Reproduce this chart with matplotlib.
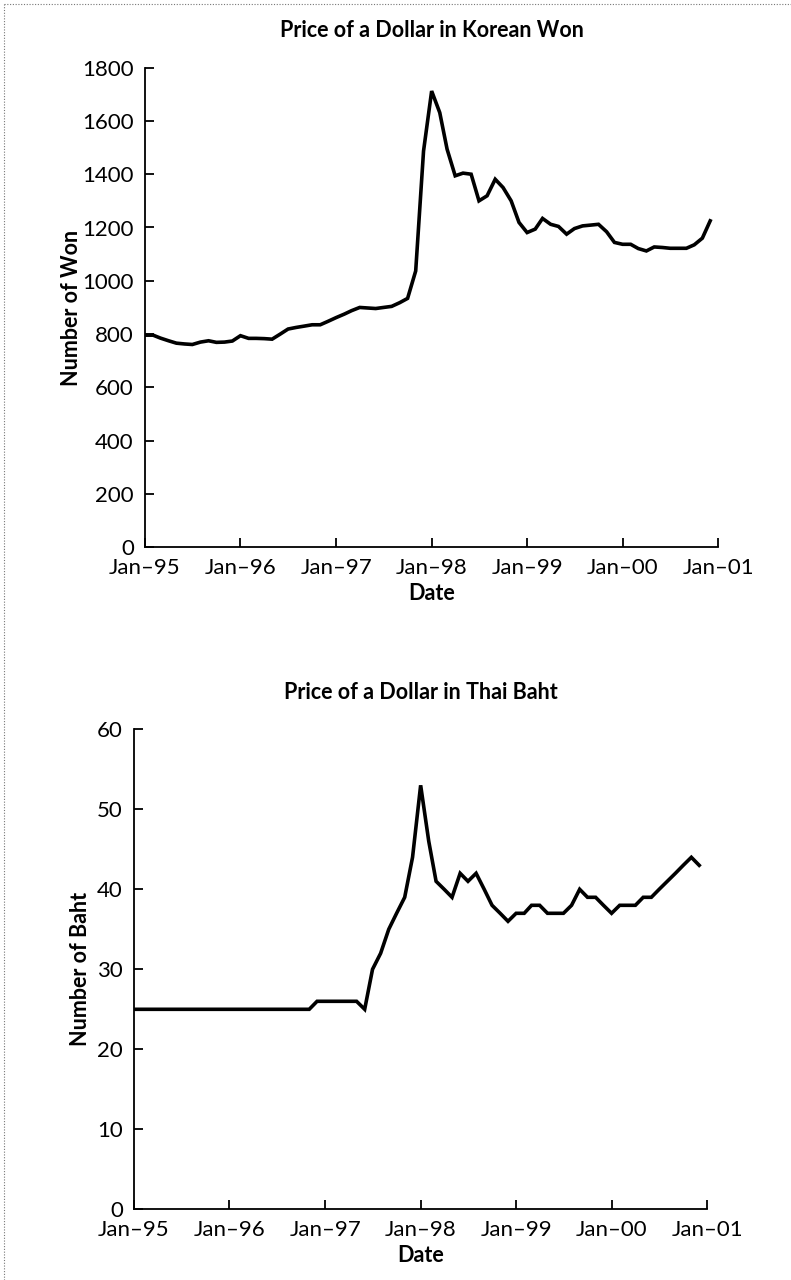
import matplotlib
matplotlib.use("Agg")
import matplotlib.pyplot as plt
from matplotlib.lines import Line2D
import pandas as pd

plt.rcParams['font.family'] = ['Lato', 'DejaVu Sans']

# Monthly observations, Jan 1995 - Dec 2000
months = pd.date_range("1995-01-01", "2000-12-01", freq="MS")

won = [796, 796, 785, 775, 766, 763, 761, 770, 775, 769, 770, 774,
       794, 784, 784, 783, 781, 800, 819, 825, 830, 835, 835, 848,
       862, 875, 888, 900, 898, 896, 900, 904, 918, 934, 1037, 1487,
       1712, 1631, 1494, 1394, 1404, 1400, 1300, 1319, 1381, 1350, 1300, 1219,
       1181, 1194, 1234, 1212, 1204, 1175, 1196, 1206, 1209, 1212, 1184, 1144,
       1137, 1137, 1121, 1112, 1127, 1125, 1122, 1122, 1122, 1135, 1160, 1225]

baht = [25, 25, 25, 25, 25, 25, 25, 25, 25, 25, 25, 25,
        25, 25, 25, 25, 25, 25, 25, 25, 25, 25, 25, 26,
        26, 26, 26, 26, 26, 25, 30, 32, 35, 37, 39, 44,
        53, 46, 41, 40, 39, 42, 41, 42, 40, 38, 37, 36,
        37, 37, 38, 38, 37, 37, 37, 38, 40, 39, 39, 38,
        37, 38, 38, 38, 39, 39, 40, 41, 42, 43, 44, 43]

year_ticks = pd.date_range("1995-01-01", "2001-01-01", freq="YS")
year_labels = ["Jan\u201395", "Jan\u201396", "Jan\u201397", "Jan\u201398",
               "Jan\u201399", "Jan\u201300", "Jan\u201301"]

won_ticks = list(range(0, 1801, 200))
baht_ticks = list(range(0, 61, 10))

W, H = 791, 1280
fig = plt.figure(figsize=(W / 100, H / 100), dpi=100)


def panel(rect, values, yticks, title, ylabel, ylabelpad):
    ax = fig.add_axes(rect)
    ax.plot(months, values, color="black", lw=2.6, solid_joinstyle="miter")
    ax.set_xlim(year_ticks[0], year_ticks[-1])
    ax.set_ylim(yticks[0], yticks[-1])
    ax.set_xticks(year_ticks)
    ax.set_xticklabels(year_labels)
    ax.set_yticks(yticks)
    for s in ("top", "right"):
        ax.spines[s].set_visible(False)
    for s in ("left", "bottom"):
        ax.spines[s].set_linewidth(1.3)
    ax.tick_params(direction="in", length=6.5, width=1.3, labelsize=16,
                   colors="black")
    ax.tick_params(axis="y", pad=8)
    ax.tick_params(axis="x", pad=8)
    ax.set_title(title, fontsize=15.5, fontweight="bold", pad=22)
    ax.set_ylabel(ylabel, fontsize=15.5, fontweight="bold", labelpad=ylabelpad)
    ax.set_xlabel("Date", fontsize=15.5, fontweight="bold", labelpad=3)
    return ax


panel([145 / W, 1 - 547.3 / H, 573.3 / W, 479.7 / H], won, won_ticks,
      "Price of a Dollar in Korean Won", "Number of Won", 0)
panel([134 / W, 1 - 1209.3 / H, 573.3 / W, 480 / H], baht, baht_ticks,
      "Price of a Dollar in Thai Baht", "Number of Baht", 4)

# faint page edge along the top and left
fig.add_artist(Line2D([4 / W, 1], [1 - 4 / H, 1 - 4 / H], transform=fig.transFigure,
                      color="#777777", lw=0.8, ls=(0, (1, 1.5))))
fig.add_artist(Line2D([4 / W, 4 / W], [0, 1 - 4 / H], transform=fig.transFigure,
                      color="#777777", lw=0.8, ls=(0, (1, 1.5))))

fig.savefig("out.png", dpi=100, facecolor="white")
